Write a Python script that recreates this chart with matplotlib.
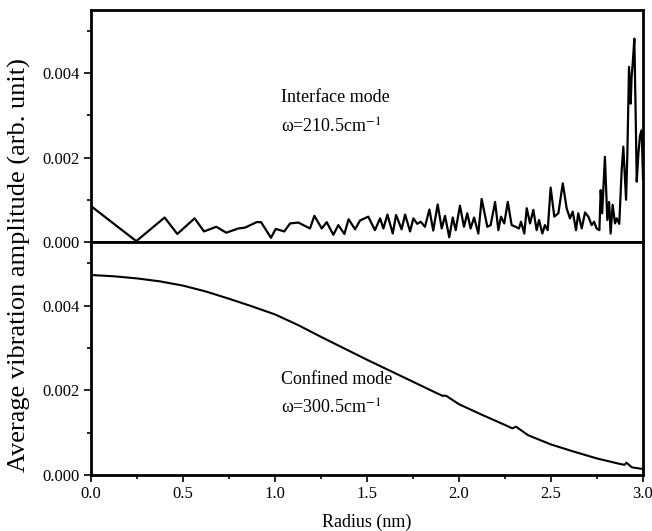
import matplotlib
matplotlib.use("Agg")
import matplotlib.pyplot as plt
from matplotlib.ticker import MultipleLocator, FormatStrFormatter

plt.rcParams["font.family"] = ["Liberation Serif", "DejaVu Serif"]
plt.rcParams["mathtext.fontset"] = "stix"

# Interface mode (omega = 210.5 cm^-1)
interface_r = [
    0.000, 0.246, 0.400, 0.469, 0.563, 0.614, 0.681, 0.735, 0.800, 0.837,
    0.900, 0.924, 0.978, 1.004, 1.050, 1.082, 1.127, 1.190, 1.214, 1.254,
    1.281, 1.317, 1.344, 1.377, 1.400, 1.435, 1.462, 1.507, 1.543, 1.571,
    1.589, 1.611, 1.640, 1.658, 1.688, 1.707, 1.734, 1.752, 1.773, 1.792,
    1.815, 1.839, 1.860, 1.884, 1.906, 1.924, 1.947, 1.966, 1.982, 2.005,
    2.027, 2.045, 2.063, 2.082, 2.105, 2.123, 2.154, 2.172, 2.196, 2.214,
    2.228, 2.246, 2.265, 2.286, 2.308, 2.326, 2.337, 2.355, 2.368, 2.386,
    2.404, 2.422, 2.435, 2.453, 2.467, 2.482, 2.498, 2.518, 2.540, 2.564,
    2.585, 2.603, 2.618, 2.636, 2.648, 2.667, 2.685, 2.703, 2.721, 2.734,
    2.748, 2.763, 2.770, 2.778, 2.793, 2.806, 2.816, 2.824, 2.835, 2.848,
    2.857, 2.871, 2.884, 2.893, 2.908, 2.915, 2.924, 2.933, 2.938, 2.944,
    2.953, 2.960, 2.966, 2.975, 2.984, 2.993, 3.000,
]
interface_amp = [
    0.00085, 0.00002, 0.00058, 0.00019, 0.00056, 0.00025, 0.00036, 0.00022, 0.00032, 0.00034,
    0.00047, 0.00047, 0.00010, 0.00031, 0.00025, 0.00044, 0.00046, 0.00032, 0.00062, 0.00032,
    0.00047, 0.00017, 0.00040, 0.00019, 0.00054, 0.00030, 0.00051, 0.00060, 0.00028, 0.00056,
    0.00032, 0.00065, 0.00020, 0.00064, 0.00030, 0.00065, 0.00025, 0.00056, 0.00043, 0.00048,
    0.00036, 0.00077, 0.00027, 0.00089, 0.00032, 0.00062, 0.00011, 0.00058, 0.00028, 0.00086,
    0.00036, 0.00068, 0.00032, 0.00058, 0.00020, 0.00102, 0.00036, 0.00040, 0.00095, 0.00028,
    0.00060, 0.00044, 0.00095, 0.00040, 0.00036, 0.00032, 0.00048, 0.00020, 0.00080, 0.00044,
    0.00076, 0.00028, 0.00052, 0.00020, 0.00040, 0.00028, 0.00129, 0.00060, 0.00068, 0.00139,
    0.00080, 0.00056, 0.00072, 0.00028, 0.00068, 0.00032, 0.00070, 0.00060, 0.00040, 0.00048,
    0.00032, 0.00028, 0.00123, 0.00068, 0.00202, 0.00052, 0.00095, 0.00020, 0.00088, 0.00044,
    0.00056, 0.00043, 0.00170, 0.00226, 0.00100, 0.00210, 0.00415, 0.00328, 0.00391, 0.00423,
    0.00482, 0.00305, 0.00143, 0.00210, 0.00253, 0.00265, 0.00150,
]

# Confined mode (omega = 300.5 cm^-1)
confined_r = [
    0.000, 0.125, 0.250, 0.375, 0.500, 0.625, 0.750, 0.875, 1.000, 1.125,
    1.250, 1.375, 1.500, 1.625, 1.750, 1.875, 1.910, 1.930, 2.000, 2.125,
    2.250, 2.290, 2.310, 2.375, 2.500, 2.625, 2.750, 2.875, 2.900, 2.910,
    2.940, 3.000,
]
confined_amp = [
    0.00472, 0.00469, 0.00464, 0.00457, 0.00447, 0.00433, 0.00416, 0.00398, 0.00379, 0.00354,
    0.00326, 0.00299, 0.00272, 0.00246, 0.00220, 0.00194, 0.00187, 0.00187, 0.00167, 0.00142,
    0.00118, 0.00110, 0.00114, 0.00094, 0.00072, 0.00055, 0.00039, 0.00026, 0.00024, 0.00029,
    0.00018, 0.00014,
]

fig = plt.figure(figsize=(6.52, 5.31), dpi=100)
ax_top = fig.add_axes([0.1396, 0.5443, 0.8466, 0.4369])
ax_bot = fig.add_axes([0.1396, 0.1055, 0.8466, 0.4388])

ax_top.plot(interface_r, interface_amp, color="black", lw=1.6)
ax_bot.plot(confined_r, confined_amp, color="black", lw=1.5)

for ax in (ax_top, ax_bot):
    ax.set_xlim(0, 3.0)
    ax.set_ylim(0, 0.0055)
    ax.xaxis.set_major_locator(MultipleLocator(0.5))
    ax.xaxis.set_minor_locator(MultipleLocator(0.25))
    ax.yaxis.set_major_locator(MultipleLocator(0.002))
    ax.yaxis.set_minor_locator(MultipleLocator(0.001))
    ax.yaxis.set_major_formatter(FormatStrFormatter("%.3f"))
    ax.xaxis.set_major_formatter(FormatStrFormatter("%.1f"))
    ax.tick_params(which="both", direction="out", top=False, right=False,
                   labelsize=12, width=1.2, pad=3)
    ax.tick_params(which="major", length=5)
    ax.tick_params(which="minor", length=3)
    for s in ax.spines.values():
        s.set_linewidth(2)

ax_top.tick_params(axis="x", labelbottom=False)

ax_top.text(1.03, 0.00343, "Interface mode", fontsize=13, va="center")
ax_top.text(1.03, 0.00273, r"ω=210.5cm$^{-1}$", fontsize=13, va="center")
ax_bot.text(1.03, 0.00226, "Confined mode", fontsize=13, va="center")
ax_bot.text(1.03, 0.00158, r"ω=300.5cm$^{-1}$", fontsize=13, va="center")

ax_bot.set_xlabel("Radius (nm)", fontsize=13, labelpad=8)
fig.text(0.030, 0.50, "Average vibration amplitude (arb. unit)", rotation=90,
         fontsize=19, va="center", ha="center")

fig.savefig("out.png", dpi=100)
